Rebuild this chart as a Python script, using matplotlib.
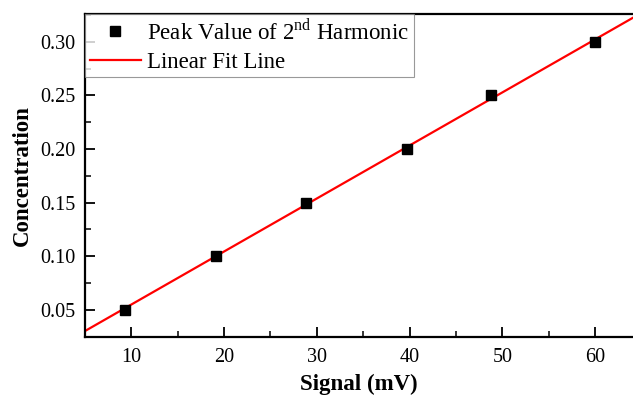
import numpy as np
import matplotlib
matplotlib.use('Agg')
import matplotlib.pyplot as plt
from matplotlib.ticker import MultipleLocator

plt.rcParams['font.family'] = ['Liberation Serif', 'DejaVu Serif']
plt.rcParams['mathtext.fontset'] = 'custom'
plt.rcParams['mathtext.rm'] = 'Liberation Serif'

# Data
signal = [9.3, 19.1, 28.8, 39.7, 48.8, 60.0]
concentration = [0.05, 0.10, 0.15, 0.20, 0.25, 0.30]

# linear fit
slope, intercept = np.polyfit(signal, concentration, 1)
x_fit = np.array([5, 64.1])
y_fit = slope * x_fit + intercept

fig = plt.figure(figsize=(6.33, 3.95), dpi=100)
ax = fig.add_axes([85 / 633, (395 - 336.5) / 395, (633 - 85) / 633, (336.5 - 14) / 395])

ax.plot(signal, concentration, 's', color='black', markersize=7.5, label='Peak Value of 2$^{\\mathrm{nd}}$ Harmonic', zorder=3)
ax.plot(x_fit, y_fit, color='red', linewidth=1.6, label='Linear Fit Line', zorder=2)

ax.set_xlim(5, 64.1)
ax.set_ylim(0.025, 0.326)
ax.xaxis.set_major_locator(MultipleLocator(10))
ax.xaxis.set_minor_locator(MultipleLocator(5))
ax.yaxis.set_major_locator(MultipleLocator(0.05))
ax.yaxis.set_minor_locator(MultipleLocator(0.025))
ax.yaxis.set_major_formatter(matplotlib.ticker.FormatStrFormatter('%.2f'))

ax.tick_params(which='major', direction='in', length=7, width=1.3, labelsize=14.5, pad=8)
ax.tick_params(which='minor', direction='in', length=4, width=1.1)
ax.tick_params(axis='y', which='major', pad=7)
for s in ['left', 'bottom', 'top']:
    ax.spines[s].set_linewidth(1.6)
ax.spines['right'].set_visible(False)

ax.set_xlabel('Signal (mV)', fontsize=16.5, fontweight='bold', labelpad=5)
ax.set_ylabel('Concentration', fontsize=16.5, fontweight='bold', labelpad=5)

leg = ax.legend(loc='upper left', fontsize=16.5, frameon=True, fancybox=False,
                edgecolor='gray', borderaxespad=0, handlelength=2.25,
                handletextpad=0.25, borderpad=0.2, labelspacing=0.32)
leg.get_frame().set_linewidth(0.8)

plt.savefig('out.png', dpi=100)
